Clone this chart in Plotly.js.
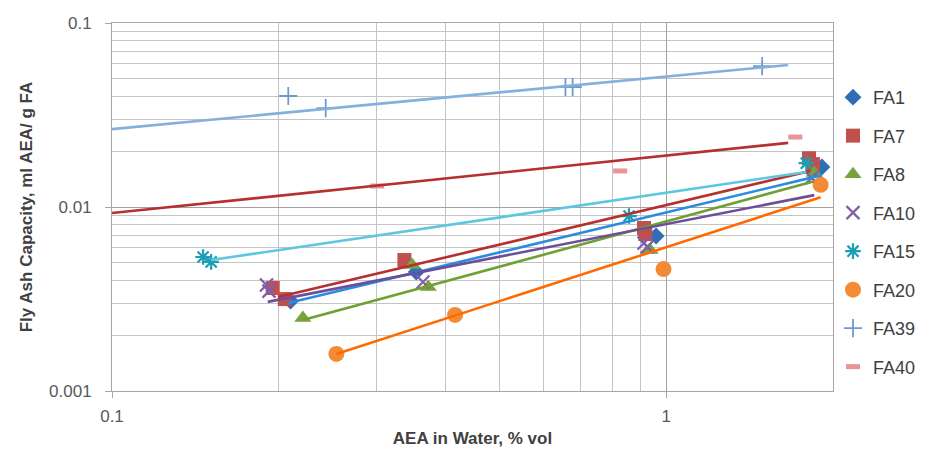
<!DOCTYPE html>
<html><head><meta charset="utf-8">
<script src="https://cdn.plot.ly/plotly-3.0.1.min.js"></script>
<style>html,body{margin:0;padding:0;background:#fff}#chart{width:935px;height:451px}</style>
</head><body><div id="chart"></div>
<script>
// ---- data ----
const seriesNames = ['FA1','FA7','FA8','FA10','FA15','FA20','FA39','FA40'];

const xFA1  = [0.210, 0.354, 0.959, 1.91];
const yFA1  = [0.00308, 0.00443, 0.00695, 0.0165];
const xFA7  = [0.195, 0.205, 0.337, 0.912, 0.917, 1.81, 1.84];
const yFA7  = [0.00363, 0.00316, 0.00515, 0.00769, 0.00713, 0.0184, 0.0171];
const xFA8  = [0.221, 0.348, 0.372, 0.935, 1.85];
const yFA8  = [0.00249, 0.00484, 0.00367, 0.00583, 0.0153];
const xFA10 = [0.190, 0.192, 0.364, 0.912, 0.924, 1.83];
const yFA10 = [0.00377, 0.00349, 0.00391, 0.00637, 0.00607, 0.0144];
const xFA15 = [0.146, 0.151, 0.857, 1.79];
const yFA15 = [0.00535, 0.00503, 0.00893, 0.0173];
const xFA20 = [0.254, 0.416, 0.989, 1.90];
const yFA20 = [0.00159, 0.00259, 0.00460, 0.0132];
const xFA39 = [0.208, 0.243, 0.658, 0.678, 1.49];
const yFA39 = [0.0401, 0.0345, 0.0449, 0.0449, 0.0583];
const xFA40 = [0.301, 0.826, 1.71];
const yFA40 = [0.0130, 0.0157, 0.0240];

// power trendlines (start / end, in data units)
const trendXFA1  = [0.208, 1.91];  const trendYFA1  = [0.00301, 0.0149];
const trendXFA7  = [0.1995, 1.82]; const trendYFA7  = [0.00324, 0.0157];
const trendXFA8  = [0.221, 1.85];  const trendYFA8  = [0.00243, 0.0138];
const trendXFA10 = [0.191, 1.85];  const trendYFA10 = [0.00305, 0.0116];
const trendXFA15 = [0.151, 1.79];  const trendYFA15 = [0.00515, 0.0155];
const trendXFA20 = [0.254, 1.90];  const trendYFA20 = [0.00159, 0.0113];
const trendXFA39 = [0.1, 1.66];    const trendYFA39 = [0.0265, 0.0591];
const trendXFA40 = [0.1, 1.66];    const trendYFA40 = [0.00927, 0.0223];

const xTickVals = [0.1, 1];
const xTickText = ['0.1', '1'];
const yTickVals = [0.001, 0.01, 0.1];
const yTickText = ['0.001', '0.01', '0.1'];

// ---- styles ----
const pts = {FA1:[xFA1,yFA1],FA7:[xFA7,yFA7],FA8:[xFA8,yFA8],FA10:[xFA10,yFA10],
  FA15:[xFA15,yFA15],FA20:[xFA20,yFA20],FA39:[xFA39,yFA39],FA40:[xFA40,yFA40]};
const trends = {FA1:[trendXFA1,trendYFA1],FA7:[trendXFA7,trendYFA7],FA8:[trendXFA8,trendYFA8],
  FA10:[trendXFA10,trendYFA10],FA15:[trendXFA15,trendYFA15],FA20:[trendXFA20,trendYFA20],
  FA39:[trendXFA39,trendYFA39],FA40:[trendXFA40,trendYFA40]};
const markerStyle = {
  FA1:  {symbol:'diamond', size:13, color:'#2F6DB5'},
  FA7:  {symbol:'square', size:14, color:'#C0504D'},
  FA8:  {symbol:'triangle-up', size:15, color:'#77A33C'},
  FA10: {symbol:'x-thin-open', size:13, color:'#7F5FA8', line:{width:2.2, color:'#7F5FA8'}},
  FA15: {symbol:'asterisk-open', size:13, color:'#1A9FB3', line:{width:2.2, color:'#1A9FB3'}},
  FA20: {symbol:'circle', size:16, color:'#F58A35'},
  FA39: {symbol:'cross-thin-open', size:13, color:'#6F9AD0', line:{width:1.8, color:'#6F9AD0'}},
  FA40: {symbol:'line-ew-open', size:10, color:'#E89595', line:{width:5, color:'#E89595'}}
};
const lineColor = {FA1:'#2B8BE0', FA7:'#B5302F', FA8:'#6FA032', FA10:'#6B4F9A',
  FA15:'#5BC8E0', FA20:'#FF6A00', FA39:'#84B0DE', FA40:'#B5302F'};

const traces = [];
seriesNames.forEach(n => {
  traces.push({type:'scatter', mode:'markers', name:n, x:pts[n][0], y:pts[n][1],
    marker:markerStyle[n], legendgroup:n, cliponaxis:true});
});
seriesNames.forEach(n => {
  traces.push({type:'scatter', mode:'lines', x:trends[n][0], y:trends[n][1],
    line:{color:lineColor[n], width:2.6}, showlegend:false, hoverinfo:'skip'});
});

function minorVals(lo, hi) {
  const v = [];
  for (let e = lo; e < hi; e++) for (let d = 2; d <= 9; d++) v.push(d * Math.pow(10, e));
  return v;
}

const axisCommon = {
  type:'log', showgrid:true, gridcolor:'#A0A0A0', gridwidth:1, zeroline:false,
  showline:true, linecolor:'#A6A6A6', linewidth:1, mirror:true,
  ticks:'outside', ticklen:6, tickcolor:'#A6A6A6', tickmode:'array',
  tickfont:{family:'Liberation Sans, Arial, sans-serif', size:17, color:'#595959'}
};

const layout = {
  width:935, height:451,
  margin:{l:112, r:102, t:23, b:60},
  paper_bgcolor:'#fff', plot_bgcolor:'#fff',
  font:{family:'Liberation Sans, Arial, sans-serif'},
  xaxis:Object.assign({}, axisCommon, {
    range:[-1, Math.log10(2)], tickvals:xTickVals, ticktext:xTickText, ticklabelstandoff:4,
    minor:{tickmode:'array', tickvals:minorVals(-1, 1), showgrid:true, gridcolor:'#C4C4C4', gridwidth:1},
    title:{text:'<b>AEA in Water, % vol</b>', font:{size:17, color:'#404040'}, standoff:6}
  }),
  yaxis:Object.assign({}, axisCommon, {
    range:[-3, -1], tickvals:yTickVals, ticktext:yTickText, ticklabelstandoff:10,
    minor:{tickmode:'array', tickvals:minorVals(-3, -1), showgrid:true, gridcolor:'#C4C4C4', gridwidth:1},
    title:{text:'<b>Fly Ash Capacity, ml AEA/ g FA</b>', font:{size:17, color:'#404040'}, standoff:12}
  }),
  legend:{x:1.0, y:0.848, xanchor:'left', yanchor:'top', traceorder:'grouped', tracegroupgap:12.1,
    font:{size:18, color:'#404040'}, bgcolor:'rgba(0,0,0,0)', borderwidth:0},
  showlegend:true
};

Plotly.newPlot('chart', traces, layout, {displayModeBar:false, staticPlot:true});
</script></body></html>
